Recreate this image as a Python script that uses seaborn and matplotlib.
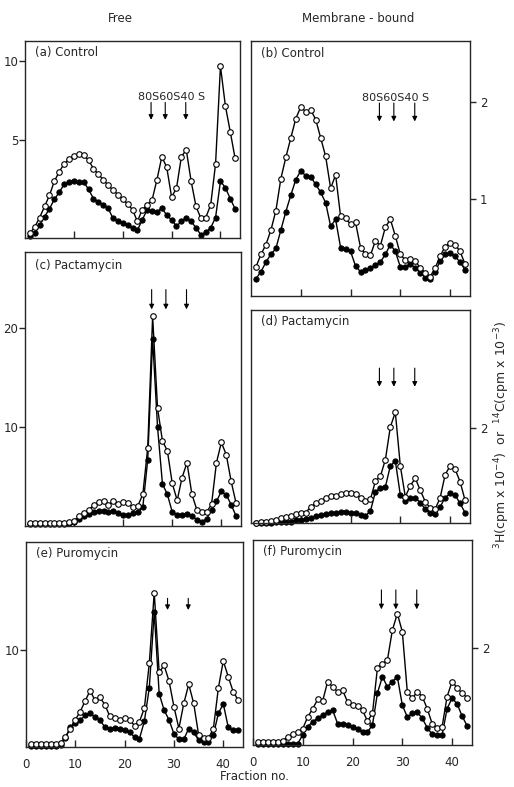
import matplotlib
matplotlib.use("Agg")
import matplotlib.pyplot as plt
import pandas as pd
import seaborn as sns

# fraction numbers along the gradient
fraction = list(range(1, 44))

# open circles = 3H, filled circles = 14C
a_open = [-0.9, -0.5, 0.1, 0.8, 1.5, 2.4, 3.0, 3.5, 3.8, 4.0, 4.15, 4.05, 3.75, 3.2, 2.85,
          2.5, 2.15, 1.85, 1.55, 1.25, 0.95, 0.6, -0.15, 0.6, 0.9, 1.2, 2.5, 3.95, 3.3, 1.4,
          1.95, 3.95, 4.4, 2.4, 0.8, 0.05, 0.1, 0.9, 3.5, 9.7, 7.2, 5.55, 3.85]
a_fill = [-1.1, -0.9, -0.4, 0.15, 0.65, 1.25, 1.7, 2.2, 2.35, 2.4, 2.35, 2.35, 1.9, 1.3, 1.1,
          0.9, 0.7, 0.05, -0.1, -0.25, -0.4, -0.55, -0.7, -0.05, 0.6, 0.5, 0.45, 0.7, 0.25, -0.05,
          -0.45, -0.15, 0.1, -0.15, -0.55, -1.0, -0.85, -0.55, 0.1, 2.4, 2.0, 1.3, 0.65]

b_open = [0.30, 0.43, 0.53, 0.68, 0.88, 1.21, 1.43, 1.63, 1.83, 1.95, 1.90, 1.92, 1.82, 1.63, 1.44,
          1.11, 1.25, 0.82, 0.80, 0.74, 0.76, 0.50, 0.43, 0.42, 0.57, 0.52, 0.71, 0.79, 0.62, 0.43,
          0.37, 0.38, 0.36, 0.29, 0.24, 0.20, 0.29, 0.41, 0.51, 0.55, 0.53, 0.46, 0.33]
b_fill = [0.18, 0.25, 0.35, 0.43, 0.49, 0.68, 0.87, 1.04, 1.20, 1.29, 1.24, 1.23, 1.15, 1.07, 0.96,
          0.72, 0.79, 0.50, 0.48, 0.46, 0.31, 0.25, 0.27, 0.29, 0.32, 0.35, 0.43, 0.53, 0.46, 0.30,
          0.30, 0.33, 0.29, 0.24, 0.19, 0.18, 0.25, 0.36, 0.43, 0.44, 0.41, 0.35, 0.27]

c_open = [0.3, 0.3, 0.3, 0.3, 0.3, 0.3, 0.3, 0.35, 0.4, 0.5, 1.0, 1.3, 1.65, 2.1, 2.4,
          2.5, 2.15, 2.5, 2.2, 2.4, 2.3, 1.9, 2.05, 3.2, 7.9, 21.2, 11.9, 8.6, 7.6, 4.3,
          2.6, 4.9, 6.4, 3.2, 1.65, 1.4, 1.4, 2.2, 6.4, 8.45, 7.2, 4.5, 2.3]
c_fill = [0.2, 0.2, 0.2, 0.2, 0.2, 0.2, 0.2, 0.25, 0.3, 0.4, 0.75, 1.0, 1.25, 1.4, 1.5,
          1.5, 1.4, 1.5, 1.3, 1.15, 1.15, 1.3, 1.4, 1.9, 6.7, 18.9, 10.0, 4.25, 3.2, 1.4,
          1.15, 1.15, 1.25, 1.0, 0.65, 0.45, 0.7, 1.65, 2.5, 3.5, 3.15, 2.15, 1.0]

d_open = [0.0, 0.02, 0.03, 0.04, 0.06, 0.10, 0.13, 0.15, 0.19, 0.22, 0.22, 0.34, 0.41, 0.47, 0.52,
          0.57, 0.57, 0.60, 0.62, 0.64, 0.60, 0.52, 0.46, 0.50, 0.88, 0.98, 1.33, 2.02, 2.32, 1.20,
          0.55, 0.78, 0.94, 0.69, 0.45, 0.31, 0.29, 0.53, 1.01, 1.20, 1.13, 0.87, 0.48]
d_fill = [0.0, 0.0, 0.01, 0.01, 0.02, 0.02, 0.03, 0.03, 0.06, 0.06, 0.08, 0.11, 0.15, 0.17, 0.19,
          0.20, 0.22, 0.24, 0.24, 0.22, 0.21, 0.17, 0.15, 0.25, 0.66, 0.73, 0.76, 1.20, 1.30, 0.59,
          0.46, 0.53, 0.53, 0.43, 0.29, 0.20, 0.19, 0.34, 0.53, 0.62, 0.59, 0.41, 0.22]

e_open = [0.3, 0.3, 0.3, 0.3, 0.3, 0.3, 0.4, 1.05, 1.9, 2.8, 3.65, 4.75, 5.8, 4.8, 5.1,
          4.35, 3.15, 2.95, 2.8, 3.0, 2.8, 2.2, 2.6, 4.0, 8.6, 15.9, 7.7, 8.4, 6.8, 4.15,
          1.9, 4.5, 6.45, 4.5, 1.25, 0.95, 0.9, 1.9, 6.05, 8.85, 7.25, 5.7, 4.85]
e_fill = [0.15, 0.15, 0.15, 0.15, 0.15, 0.15, 0.2, 0.95, 2.05, 2.5, 2.75, 3.25, 3.45, 3.1, 2.75,
          2.05, 1.9, 1.95, 1.9, 1.7, 1.5, 1.05, 0.85, 2.65, 6.1, 13.9, 5.5, 3.8, 2.8, 1.35,
          0.8, 0.8, 1.9, 1.5, 0.7, 0.55, 0.55, 1.25, 3.45, 4.45, 2.05, 1.7, 1.7]

f_open = [0.07, 0.07, 0.07, 0.07, 0.07, 0.09, 0.17, 0.22, 0.26, 0.34, 0.58, 0.75, 0.94, 0.91, 1.31,
          1.20, 1.10, 1.13, 0.89, 0.82, 0.81, 0.72, 0.49, 0.65, 1.59, 1.68, 1.75, 2.37, 2.71, 2.34,
          1.10, 0.96, 1.10, 1.00, 0.75, 0.44, 0.36, 0.38, 1.00, 1.31, 1.18, 1.07, 0.98]
f_fill = [0.03, 0.03, 0.03, 0.03, 0.03, 0.03, 0.03, 0.03, 0.03, 0.21, 0.38, 0.48, 0.55, 0.62, 0.68,
          0.72, 0.44, 0.44, 0.41, 0.38, 0.34, 0.26, 0.27, 0.41, 1.07, 1.41, 1.20, 1.31, 1.41, 0.82,
          0.58, 0.65, 0.68, 0.55, 0.36, 0.22, 0.21, 0.21, 0.75, 0.97, 0.85, 0.60, 0.40]

titles = ["(a) Control", "(b) Control", "(c) Pactamycin", "(d) Pactamycin",
          "(e) Puromycin", "(f) Puromycin"]
ribosome_pos = [25.8, 28.7, 32.9]
ribosome_label = "80S60S40 S"

sns.set_style("ticks")
plt.rcParams['font.family'] = ['DejaVu Sans']

fig = plt.figure(figsize=(5.14, 7.87), dpi=100)
W, H = 514, 787


def box(l, r, t, b):
    return [l / W, 1 - b / H, (r - l) / W, (b - t) / H]


panels = [
    # open, filled, rect, ylim, yticks, right side?, arrow tail/head, which arrows, label x
    (a_open, a_fill, box(25, 240, 41, 238), (-1.2, 11.3), [5, 10], False, (7.4, 6.3), [0, 1, 2], 23.1),
    (b_open, b_fill, box(251, 470, 41, 296), (0, 2.63), [1, 2], True, (1.99, 1.80), [0, 1, 2], 22.4),
    (c_open, c_fill, box(25, 241, 252, 526), (0, 27.7), [10, 20], False, (23.9, 21.9), [0, 1, 2], None),
    (d_open, d_fill, box(251, 470, 310, 523), (0, 4.47), [2], True, (3.25, 2.86), [0, 1, 2], None),
    (e_open, e_fill, box(26, 243, 542, 747), (0, 21.1), [10], False, (15.3, 14.1), [1, 2], None),
    (f_open, f_fill, box(253, 472, 540, 745), (0, 4.23), [2], True, (3.2, 2.8), [0, 1, 2], None),
]

for i, (y_open, y_fill, rect, ylim, yt, right, arr, which, lab_x) in enumerate(panels):
    ax = fig.add_axes(rect)
    df = pd.DataFrame({"fraction": fraction, "open": y_open, "filled": y_fill})
    sns.lineplot(data=df, x="fraction", y="filled", ax=ax, color="black", lw=1.0,
                 marker="o", markersize=3.8, markerfacecolor="black",
                 markeredgecolor="black", markeredgewidth=0.7, clip_on=False)
    sns.lineplot(data=df, x="fraction", y="open", ax=ax, color="black", lw=1.0,
                 marker="o", markersize=4.0, markerfacecolor="white",
                 markeredgecolor="black", markeredgewidth=0.8, clip_on=False)
    ax.set_xlim(0, 44)
    ax.set_ylim(*ylim)
    ax.set_xlabel("")
    ax.set_ylabel("")
    for s in ax.spines.values():
        s.set_linewidth(1.0)

    if i >= 4:
        ax.set_xticks([0, 10, 20, 30, 40])
    else:
        ax.set_xticks([10, 20, 30, 40])
        ax.set_xticklabels([])
    ax.tick_params(axis="x", direction="in", length=5, width=1, labelsize=8.5, pad=8)

    ax.set_yticks(yt)
    ax.set_yticklabels([str(v) for v in yt])
    if right:
        ax.yaxis.tick_right()
        ax.tick_params(axis="y", direction="out", length=4, width=1, labelsize=8.5,
                       left=False, right=True, pad=3)
    else:
        ax.tick_params(axis="y", direction="out", length=4, width=1, labelsize=8.5, pad=1)

    ax.text(0.045, 0.975, titles[i], transform=ax.transAxes, ha="left", va="top",
            fontsize=8.5)

    for k in which:
        ax.annotate("", xy=(ribosome_pos[k], arr[1]), xytext=(ribosome_pos[k], arr[0]),
                    arrowprops=dict(arrowstyle="-|>", color="black", lw=0.8,
                                    mutation_scale=7, shrinkA=0, shrinkB=0))
    if lab_x is not None:
        ax.text(lab_x, arr[0], ribosome_label, ha="left", va="bottom", fontsize=8)

fig.text(120 / W, 1 - 18 / H, "Free", ha="center", va="center", fontsize=8.5)
fig.text(358 / W, 1 - 18 / H, "Membrane - bound", ha="center", va="center", fontsize=8.5)
fig.text(255 / W, 1 - 777 / H, "Fraction no.", ha="center", va="center", fontsize=8.5)
fig.text(502 / W, 1 - 435 / H,
         r"$^{3}$H(cpm x 10$^{-4}$)  or  $^{14}$C(cpm x 10$^{-3}$)",
         rotation=90, ha="center", va="center", fontsize=9)

fig.savefig("out.png", dpi=100)
